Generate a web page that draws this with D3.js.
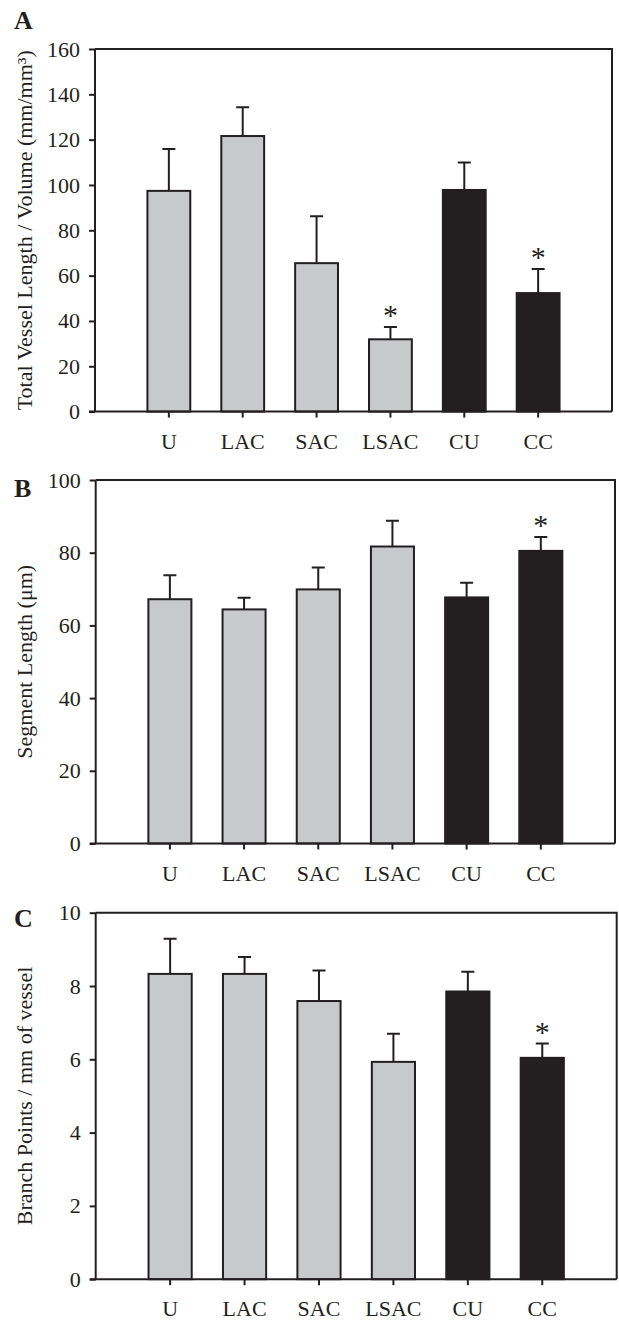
<!DOCTYPE html>
<html><head><meta charset="utf-8">
<script src="https://cdn.jsdelivr.net/npm/d3@7"></script>
<style>body{margin:0;background:#fff}svg{display:block}</style>
</head><body>
<script>
const categories = ["U","LAC","SAC","LSAC","CU","CC"];
const groups = ["A","A","A","A","C","C"];
const tvlMean = [97.4,121.6,65.5,31.9,97.8,52.3];
const tvlErr  = [18.5,12.7,20.7,5.4,12.1,10.6];
const tvlSig  = [false,false,false,true,false,true];
const segMean = [67.2,64.4,69.9,81.7,67.7,80.5];
const segErr  = [6.6,3.2,6.0,7.1,4.0,3.8];
const segSig  = [false,false,false,false,false,true];
const bpMean  = [8.33,8.33,7.59,5.93,7.85,6.04];
const bpErr   = [0.96,0.46,0.83,0.77,0.54,0.39];
const bpSig   = [false,false,false,false,false,true];
const tvlTicks = [0,20,40,60,80,100,120,140,160];
const segTicks = [0,20,40,60,80,100];
const bpTicks  = [0,2,4,6,8,10];

const W = 619, H = 1324;
const ink = "#231f20";
const fillFor = {A:"#c8c9cb", C:"#231f20"};
const font = "'Liberation Serif','Times New Roman',serif";

const svg = d3.select("body").append("svg").attr("width",W).attr("height",H);

const panels = [
  {letter:"A", title:"Total Vessel Length / Volume (mm/mm³)", mean:tvlMean, err:tvlErr, sig:tvlSig, ticks:tvlTicks,
   left:95, right:612, top:49, bottom:411.6, letterY:29},
  {letter:"B", title:"Segment Length (μm)", mean:segMean, err:segErr, sig:segSig, ticks:segTicks,
   left:95.7, right:615, top:480, bottom:843.5, letterY:497},
  {letter:"C", title:"Branch Points / mm of vessel", mean:bpMean, err:bpErr, sig:bpSig, ticks:bpTicks,
   left:95.7, right:616.7, top:912.7, bottom:1279.2, letterY:927}
];

panels.forEach(p => {
  const g = svg.append("g");
  const x = d3.scaleBand().domain(categories).range([p.left,p.right]).paddingInner(0.42).paddingOuter(0.71);
  const y = d3.scaleLinear().domain([p.ticks[0], p.ticks[p.ticks.length-1]]).range([p.bottom,p.top]);

  g.append("path").attr("d",`M${p.left},${p.top}H${p.right}V${p.bottom}`)
    .attr("fill","none").attr("stroke",ink).attr("stroke-width",2);

  const idx = d3.range(categories.length);
  g.selectAll("rect.bar").data(idx).join("rect")
    .attr("x", i => x(categories[i]))
    .attr("width", x.bandwidth())
    .attr("y", i => y(p.mean[i]))
    .attr("height", i => y(0) - y(p.mean[i]))
    .attr("fill", i => fillFor[groups[i]])
    .attr("stroke", ink).attr("stroke-width",2);

  const cx = i => x(categories[i]) + x.bandwidth()/2;
  g.selectAll("path.err").data(idx).join("path")
    .attr("d", i => `M${cx(i)},${y(p.mean[i])}V${y(p.mean[i]+p.err[i])}M${cx(i)-6.5},${y(p.mean[i]+p.err[i])}H${cx(i)+6.5}`)
    .attr("fill","none").attr("stroke",ink).attr("stroke-width",2);

  g.selectAll("text.sig").data(idx.filter(i => p.sig[i])).join("text")
    .attr("x", cx).attr("y", i => y(p.mean[i]+p.err[i]) - 2)
    .attr("text-anchor","middle").attr("font-family",font).attr("font-size",30).attr("fill",ink)
    .text("*");

  const ya = g.append("g").attr("transform",`translate(${p.left},0)`)
    .call(d3.axisLeft(y).tickValues(p.ticks).tickSize(6).tickPadding(9).tickFormat(d3.format("d")));
  ya.select(".domain").attr("stroke",ink).attr("stroke-width",2).attr("d",`M0,${p.bottom}V${p.top}`);
  ya.selectAll(".tick line").attr("stroke",ink).attr("stroke-width",2);
  ya.selectAll(".tick text").attr("font-family",font).attr("font-size",22).attr("fill",ink);

  const xa = g.append("g").attr("transform",`translate(0,${p.bottom})`)
    .call(d3.axisBottom(x).tickSize(6).tickPadding(0));
  xa.select(".domain").attr("stroke",ink).attr("stroke-width",2).attr("d",`M${p.left-6},0H${p.right}`);
  xa.selectAll(".tick line").attr("stroke",ink).attr("stroke-width",2);
  xa.selectAll(".tick text").attr("font-family",font).attr("font-size",22).attr("fill",ink)
    .attr("dy",null).attr("y",37);

  g.append("text")
    .attr("transform",`translate(32,${(p.top+p.bottom)/2}) rotate(-90)`)
    .attr("text-anchor","middle").attr("font-family",font).attr("font-size",22).attr("fill",ink)
    .text(p.title);

  g.append("text").attr("x",14).attr("y",p.letterY)
    .attr("font-family",font).attr("font-weight","bold").attr("font-size",26).attr("fill",ink)
    .text(p.letter);
});
</script>
</body></html>
